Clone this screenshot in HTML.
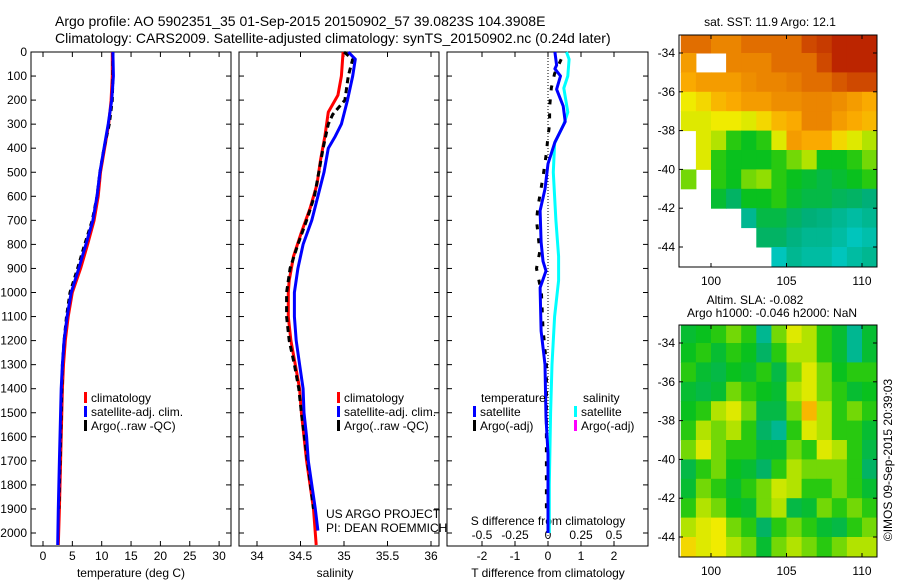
<!DOCTYPE html>
<html><head><meta charset="utf-8">
<style>
body{margin:0;background:#fff;}
svg{display:block;font-family:"Liberation Sans",sans-serif;}
text{font-size:12px;fill:#000;}
</style></head>
<body>
<svg id="fig" width="900" height="580" xmlns="http://www.w3.org/2000/svg">
<text x="55" y="26" style="font-size:14px">Argo profile: AO 5902351_35 01-Sep-2015 20150902_57 39.0823S 104.3908E</text>
<text x="55" y="43" style="font-size:14px">Climatology: CARS2009. Satellite-adjusted climatology: synTS_20150902.nc (0.24d later)</text>
</svg>
<script>
// ---------- data ----------
const depthTicks=[0,100,200,300,400,500,600,700,800,900,1000,1100,1200,1300,1400,1500,1600,1700,1800,1900,2000];
const tempTicks=[0,5,10,15,20,25,30];
const salTicks=[34,34.5,35,35.5,36];
const tdiffTicks=[-2,-1,0,1,2];
const sdiffTicks=[-0.5,-0.25,0,0.25,0.5];
const sdiffTickLabels=["-0.5","-0.25","0","0.25","0.5"];

const tDepth=[0,100,200,300,400,500,600,700,800,900,1000,1100,1200,1300,1400,1500,1700,1900,2050];
const tClim=[11.8,11.8,11.6,11.2,10.5,9.8,9.4,8.7,7.6,6.4,5.0,4.3,3.8,3.5,3.3,3.2,3.0,2.8,2.6];
const tSat=[11.9,12.0,11.7,11.1,10.4,9.7,9.2,8.5,7.3,6.1,4.8,4.1,3.6,3.3,3.1,3.0,2.8,2.6,2.5];
const tArgo=[11.9,11.9,11.8,11.3,10.4,9.7,9.2,8.4,7.1,5.9,4.6,4.0,3.6,3.3,3.2,3.1,2.9,2.7];
const tArgoDepth=[0,100,200,300,400,500,600,700,800,900,1000,1100,1200,1300,1400,1500,1700,1900];

const sDepth=[0,100,180,250,350,450,550,650,750,850,950,1000,1100,1200,1300,1400,1500,1700,1900,2050];
const sClim=[34.99,34.97,34.93,34.82,34.78,34.73,34.69,34.61,34.51,34.42,34.37,34.36,34.36,34.39,34.44,34.49,34.51,34.57,34.65,34.68];
const sSatDepth=[0,30,100,200,300,350,400,500,600,700,800,900,1000,1100,1200,1300,1400,1500,1600,1700,1800,1900,1990];
const sSat=[35.05,35.13,35.10,35.04,34.97,34.90,34.82,34.77,34.70,34.63,34.53,34.47,34.43,34.43,34.45,34.49,34.53,34.54,34.57,34.59,34.63,34.67,34.70];
const sArgoDepth=[0,30,100,200,260,300,400,500,600,700,800,900,1000,1100,1200,1300,1400,1500,1700,1900];
const sArgo=[35.0,35.10,35.05,35.01,34.87,34.82,34.76,34.71,34.66,34.57,34.47,34.38,34.34,34.34,34.37,34.43,34.48,34.51,34.58,34.65];

const dDepth=[0,55,70,100,155,225,290,375,465,570,660,790,870,910,980,1160,1300,1520,1670,2000];
const dTSat=[0.21,0.26,0.21,0.38,0.26,0.46,0.52,0.21,0.0,-0.09,-0.24,-0.21,-0.15,-0.06,-0.24,-0.21,-0.09,-0.06,0.0,0.0];
const dSDepth=[0,30,100,150,250,300,380,500,700,850,950,1100,1300,1500,1800,2000];
const dSSat=[0.14,0.16,0.15,0.12,0.15,0.12,0.05,0.04,0.06,0.08,0.08,0.05,0.03,0.02,0.01,0.01];
const dTArgoDepth=[30,90,150,230,300,350,420,520,640,700,760,830,900,1000,1150,1300,1500,1700,1900];
const dTArgo=[0.4,0.2,0.1,0.05,0.05,0.0,-0.05,-0.15,-0.3,-0.35,-0.3,-0.25,-0.35,-0.2,-0.15,-0.05,-0.05,-0.05,-0.05];

const sstGrid=[
[0.85,0.85,0.8,0.8,0.85,0.85,0.85,0.85,0.9,0.92,0.95,0.95,0.95],
[0.75,null,null,0.8,0.8,0.8,0.85,0.85,0.85,0.9,0.95,0.95,0.95],
[0.72,0.75,0.75,0.75,0.78,0.8,0.8,0.82,0.85,0.85,0.88,0.9,0.9],
[0.62,0.65,0.7,0.72,0.75,0.75,0.78,0.78,0.8,0.8,0.78,0.75,0.72],
[0.6,0.6,0.62,0.62,0.6,0.65,0.7,0.72,0.8,0.8,0.75,0.72,0.7],
[null,0.6,0.55,0.45,0.42,0.45,0.6,0.75,0.72,0.72,0.65,0.6,0.55],
[null,0.6,0.45,0.42,0.42,0.42,0.45,0.5,0.55,0.42,0.42,0.45,0.5],
[0.5,null,0.45,0.42,0.5,0.52,0.45,0.42,0.4,0.38,0.4,0.42,0.45],
[null,null,0.4,0.35,0.42,0.42,0.45,0.4,0.38,0.38,0.36,0.35,0.33],
[null,null,null,null,0.3,0.38,0.38,0.35,0.33,0.32,0.3,0.28,0.3],
[null,null,null,null,null,0.35,0.35,0.32,0.3,0.3,0.28,0.25,0.27],
[null,null,null,null,null,null,0.25,0.3,0.28,0.28,0.25,0.28,0.3]];
const slaGrid=[
[0.4,0.42,0.45,0.5,0.45,0.3,0.5,0.6,0.55,0.45,0.4,0.3,0.4],
[0.42,0.45,0.4,0.45,0.42,0.35,0.45,0.55,0.55,0.45,0.4,0.3,0.4],
[0.45,0.4,0.38,0.42,0.4,0.45,0.38,0.5,0.6,0.5,0.42,0.45,0.45],
[0.4,0.38,0.4,0.5,0.45,0.42,0.4,0.55,0.6,0.5,0.45,0.4,0.42],
[0.42,0.45,0.55,0.6,0.5,0.38,0.38,0.5,0.7,0.55,0.45,0.5,0.45],
[0.45,0.55,0.5,0.55,0.45,0.35,0.3,0.45,0.6,0.55,0.45,0.45,0.4],
[0.5,0.6,0.5,0.45,0.45,0.4,0.4,0.5,0.45,0.6,0.55,0.45,0.38],
[0.38,0.45,0.5,0.42,0.4,0.35,0.45,0.55,0.5,0.5,0.5,0.45,0.35],
[0.4,0.5,0.45,0.4,0.45,0.5,0.58,0.55,0.45,0.45,0.5,0.45,0.4],
[0.45,0.55,0.5,0.42,0.4,0.5,0.55,0.38,0.4,0.5,0.45,0.5,0.45],
[0.55,0.6,0.62,0.5,0.45,0.35,0.45,0.5,0.45,0.4,0.38,0.45,0.5],
[0.65,0.6,0.62,0.55,0.5,0.4,0.5,0.55,0.5,0.45,0.5,0.55,0.55]];
const lonTicks=[100,105,110];
const latTicks=[-34,-36,-38,-40,-42,-44];

// ---------- rendering ----------
const NS="http://www.w3.org/2000/svg";
const svg=document.getElementById('fig');
function mk(tag,attrs,parent){const e=document.createElementNS(NS,tag);for(const k in attrs)e.setAttribute(k,attrs[k]);(parent||svg).appendChild(e);return e;}
const Y0=52,Y1=546;
const yD=d=>52+d*0.2405;
const xT=t=>43+t*5.87;
const xS=s=>257+(s-34)*87;
const xDT=t=>548+t*33;
const xDS=s=>548+s*132;

function panel(x0,x1,name){
  const r=mk('rect',{x:x0,y:Y0,width:x1-x0,height:Y1-Y0,fill:'none',stroke:'#000','stroke-width':1});
  
  
  depthTicks.forEach(d=>{const y=yD(d);
    mk('line',{x1:x0,x2:x0+5,y1:y,y2:y,stroke:'#000'});mk('line',{x1:x1-5,x2:x1,y1:y,y2:y,stroke:'#000'});});
}
panel(31,231,'temperature-panel');
panel(239,439,'salinity-panel');
panel(447,648,'difference-panel');
depthTicks.forEach(d=>{const t=mk('text',{x:27,y:yD(d)+4,'text-anchor':'end'});t.textContent=d;
  
  });

function xAxis(ticks,labels,fx,ty,bottomTicks){
  ticks.forEach((v,i)=>{const x=fx(v);
    if(bottomTicks){mk('line',{x1:x,x2:x,y1:Y1,y2:Y1-5,stroke:'#000'});mk('line',{x1:x,x2:x,y1:Y0,y2:Y0+5,stroke:'#000'});}
    const t=mk('text',{x:x,y:ty,'text-anchor':'middle'});t.textContent=labels[i];
    
    });
}
xAxis(tempTicks,tempTicks.map(String),xT,560,true);
xAxis(salTicks,salTicks.map(String),xS,560,true);
xAxis(tdiffTicks,tdiffTicks.map(String),xDT,560,true);
xAxis(sdiffTicks,sdiffTickLabels,xDS,539,false);
function label(x,y,txt,name,anchor,extra){const t=mk('text',Object.assign({x:x,y:y,'text-anchor':anchor||'start'},extra||{}));t.textContent=txt;
  
  return t;}
label(131,577,'temperature (deg C)','temperature-axis-title','middle');
label(335,577,'salinity','salinity-axis-title','middle');
label(548,577,'T difference from climatology','t-diff-axis-title','middle');
label(548,525,'S difference from climatology','s-diff-axis-title','middle');
label(326,518,'US ARGO PROJECT','project-label');
label(326,532,'PI: DEAN ROEMMICH','pi-label');

mk('line',{x1:548,x2:548,y1:Y0,y2:Y1,stroke:'#000','stroke-dasharray':'1 2'});

function line(xs,ds,fx,color,name,dash){
  const pts=xs.map((v,i)=>fx(v).toFixed(1)+','+yD(ds[i]).toFixed(1)).join(' ');
  const p=mk('polyline',{points:pts,fill:'none',stroke:color,'stroke-width':3,'stroke-linejoin':'round'});
  if(dash)p.setAttribute('stroke-dasharray',dash);
  
  
}
line(tClim,tDepth,xT,'#f00','temp-climatology-line');
line(tArgo,tArgoDepth,xT,'#000','temp-argo-line','5 4');
line(tSat,tDepth,xT,'#00f','temp-satellite-line');
line(sClim,sDepth,xS,'#f00','sal-climatology-line');
line(sArgo,sArgoDepth,xS,'#000','sal-argo-line','6 4');
line(sSat,sSatDepth,xS,'#00f','sal-satellite-line');
line(dSSat,dSDepth,xDS,'#0ff','sdiff-satellite-line');
line(dTArgo,dTArgoDepth,xDT,'#000','tdiff-argo-line','5 9');
line(dTSat,dDepth,xDT,'#00f','tdiff-satellite-line');

function legend(x,y,items,name){
  items.forEach((it,i)=>{
    const b=mk('rect',{x:x,y:y+i*14-10,width:3,height:11,fill:it[0]});
    
    
    label(x+7,y+i*14,it[1],name+'-entry');});
}
legend(84,402,[['#f00','climatology'],['#00f','satellite-adj. clim.'],['#000','Argo(..raw -QC)']],'temp-legend');
legend(337,402,[['#f00','climatology'],['#00f','satellite-adj. clim.'],['#000','Argo(..raw -QC)']],'sal-legend');
label(481,402,'temperature','tdiff-legend-heading');
label(583,402,'salinity','sdiff-legend-heading');
legend(473,416,[['#00f','satellite'],['#000','Argo(-adj)']],'tdiff-legend');
legend(574,416,[['#0ff','satellite'],['#f0f','Argo(-adj)']],'sdiff-legend');

// ---------- maps ----------
const cmapStops=[[0,[0,90,255]],[0.2,[0,210,230]],[0.33,[0,175,120]],[0.43,[10,195,20]],[0.53,[160,225,0]],[0.62,[240,235,0]],[0.72,[250,170,0]],[0.85,[225,110,0]],[1,[170,0,0]]];
function cmap(v){
  for(let i=1;i<cmapStops.length;i++){
    if(v<=cmapStops[i][0]){const a=cmapStops[i-1],b=cmapStops[i];const f=(v-a[0])/(b[0]-a[0]);
      return 'rgb('+a[1].map((c,k)=>Math.round(c+(b[1][k]-c)*f)).join(',')+')';}
  }
  return 'rgb(170,0,0)';
}
function map(grid,top,name){
  const L=679,R=877,T=top,B=top+232;
  const xL=lon=>711+(lon-100)*15.1;
  const yL=lat=>T+18+(-34-lat)*19.4;
  grid.forEach((row,ri)=>row.forEach((v,ci)=>{
    if(v===null)return;
    const lon0=98+ci,lat0=-33-ri;
    const x0=Math.max(L,xL(lon0)),x1=Math.min(R,xL(lon0+1));
    const y0=Math.max(T,yL(lat0)),y1=Math.min(B,yL(lat0-1));
    const c=mk('rect',{x:x0.toFixed(1),y:y0.toFixed(1),width:(x1-x0+0.5).toFixed(1),height:(y1-y0+0.5).toFixed(1),fill:cmap(v)});
    
    
  }));
  const f=mk('rect',{x:L,y:T,width:R-L,height:B-T,fill:'none',stroke:'#000'});
  
  
  lonTicks.forEach(l=>{const x=xL(l);mk('line',{x1:x,x2:x,y1:B,y2:B-4,stroke:'#000'});mk('line',{x1:x,x2:x,y1:T,y2:T+4,stroke:'#000'});
    label(x,B+18,String(l),name+'-lon-label','middle');});
  latTicks.forEach(l=>{const y=yL(l);mk('line',{x1:L,x2:L+4,y1:y,y2:y,stroke:'#000'});mk('line',{x1:R,x2:R-4,y1:y,y2:y,stroke:'#000'});
    label(L-4,y+4,String(l),name+'-lat-label','end');});
}
map(sstGrid,35,'sst-map');
map(slaGrid,325,'sla-map');
label(770,26,'sat. SST: 11.9 Argo: 12.1','sst-map-title','middle');
label(755,304,'Altim. SLA: -0.082','sla-map-title','middle');
label(772,317,'Argo h1000: -0.046 h2000: NaN','sla-argo-title','middle');
label(0,0,'©IMOS 09-Sep-2015 20:39:03','imos-credit','middle',{transform:'translate(892,460) rotate(-90)'});
</script>
</body></html>
